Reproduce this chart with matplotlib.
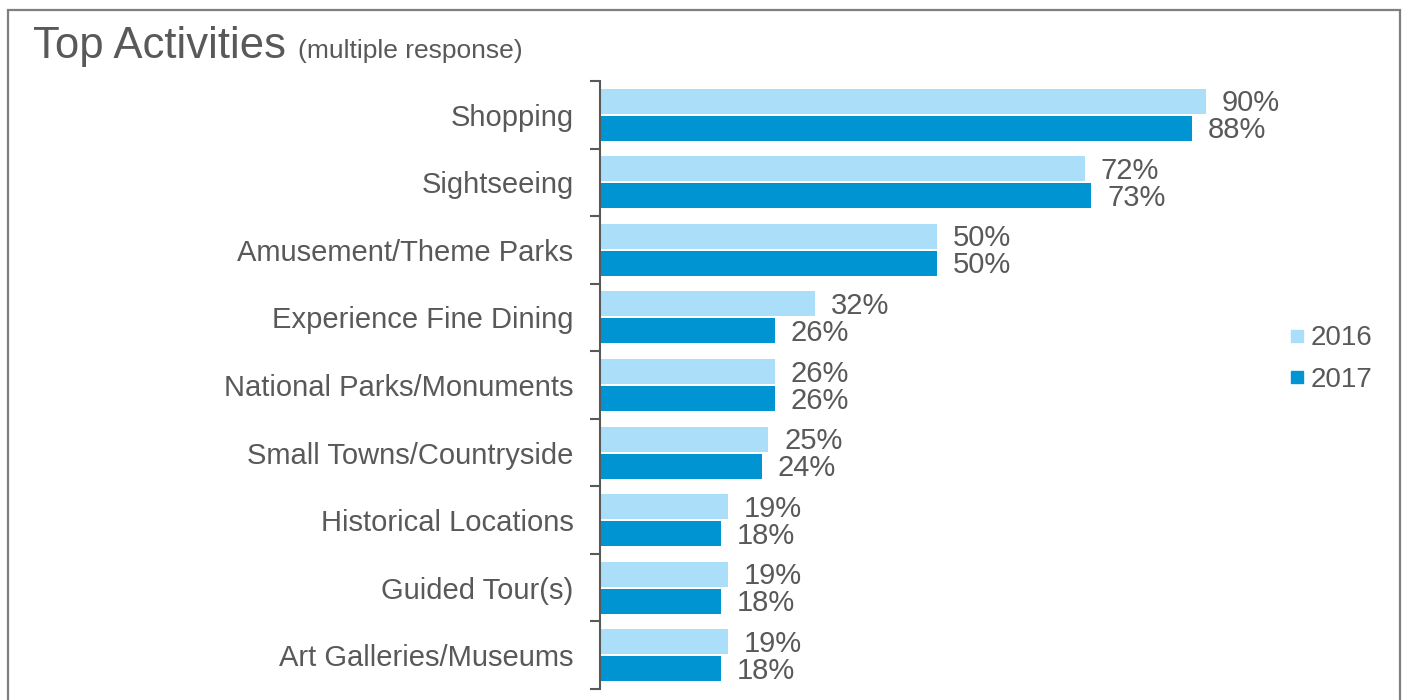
import matplotlib
matplotlib.use("Agg")
import matplotlib.pyplot as plt
import numpy as np
from matplotlib.patches import Rectangle
from matplotlib.lines import Line2D

activities = ["Shopping", "Sightseeing", "Amusement/Theme Parks", "Experience Fine Dining",
              "National Parks/Monuments", "Small Towns/Countryside", "Historical Locations",
              "Guided Tour(s)", "Art Galleries/Museums"]
pct_2016 = [90, 72, 50, 32, 26, 25, 19, 19, 19]
pct_2017 = [88, 73, 50, 26, 26, 24, 18, 18, 18]
years = ["2016", "2017"]

c16 = "#ABDFF9"
c17 = "#0094D2"
txt = "#595959"

plt.rcParams["font.family"] = ["Liberation Sans", "DejaVu Sans"]

W, H = 1408, 700
fig = plt.figure(figsize=(W / 100, H / 100), dpi=100)
ax = fig.add_axes([600 / W, 1 - 689 / H, 673 / W, 608 / H])

y = np.arange(len(activities))
bh = 0.37
ax.barh(y - 0.2, pct_2016, height=bh, color=c16)
ax.barh(y + 0.2, pct_2017, height=bh, color=c17)

# value labels
for i in range(len(activities)):
    ax.annotate(f"{pct_2016[i]}%", (pct_2016[i], y[i] - 0.2), xytext=(11.5, -1.5),
                textcoords="offset points", va="center", ha="left", fontsize=21, color=txt)
    ax.annotate(f"{pct_2017[i]}%", (pct_2017[i], y[i] + 0.2), xytext=(11.5, -1.5),
                textcoords="offset points", va="center", ha="left", fontsize=21, color=txt)

ax.set_xlim(0, 100)
ax.set_ylim(len(activities) - 0.5, -0.5)

# category labels at centres, tick marks at the boundaries
ax.set_yticks(y)
ax.set_yticklabels(activities, fontsize=21, color=txt)
ax.tick_params(axis="y", which="major", length=0, pad=19)
ax.set_yticks(np.arange(len(activities) + 1) - 0.5, minor=True)
ax.tick_params(axis="y", which="minor", length=7, width=1.5, color=txt, direction="out")
ax.set_xticks([])

for s in ["top", "right", "bottom"]:
    ax.spines[s].set_visible(False)
ax.spines["left"].set_color(txt)
ax.spines["left"].set_linewidth(1.5)

handles = [Line2D([], [], marker="s", linestyle="none", markersize=8.5, color=c)
           for c in (c16, c17)]
fig.legend(handles, years, loc="center left", bbox_to_anchor=(1286 / W, 1 - 359 / H),
           frameon=False, fontsize=20, labelcolor=txt, handletextpad=0.1,
           labelspacing=0.55, borderpad=0, borderaxespad=0, handlelength=0.8)

fig.text(33 / W, 1 - 58 / H, "Top Activities", fontsize=31.5, color=txt, va="baseline")
fig.text(298 / W, 1 - 58 / H, "(multiple response)", fontsize=19, color=txt, va="baseline")

fig.patches.append(Rectangle((8 / W, -0.05), 1392 / W, 1.05 - 10 / H, transform=fig.transFigure,
                             fill=False, edgecolor="#7F7F7F", linewidth=1.6))

fig.savefig("out.png", dpi=100)
